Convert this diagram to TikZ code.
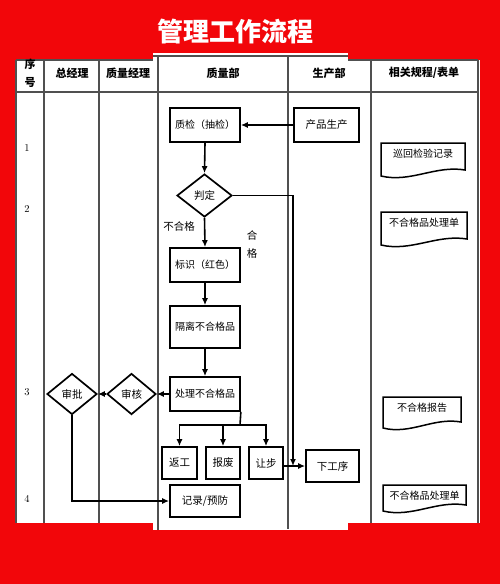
\documentclass[tikz,border=0pt]{standalone}
\usepackage{fontspec}
\newfontfamily\cjk{Noto Sans CJK SC}
\usetikzlibrary{shapes.geometric,arrows.meta}
\definecolor{bgred}{RGB}{242,6,10}
\definecolor{gridc}{RGB}{80,80,80}
\tikzset{
  box/.style={draw, line width=1.7pt, inner sep=0pt, font=\cjk\fontsize{10.5}{13}\selectfont},
  dia/.style={draw, diamond, line width=1.7pt, inner sep=0pt, font=\cjk\fontsize{10.5}{13}\selectfont},
  smalltxt/.style={font=\cjk\fontsize{10}{13}\selectfont},
  arr/.style={line width=1.6pt, -{Latex[length=7pt,width=6pt]}},
  ln/.style={line width=1.6pt},
  gridl/.style={draw=gridc, line width=1.2pt},
  hdr/.style={font=\cjk\bfseries\fontsize{11}{18}\selectfont, align=center},
  lbl/.style={font=\cjk\fontsize{10.5}{18}\selectfont, align=center},
  num/.style={font=\fontsize{10.5}{12}\selectfont},
  doctext/.style={font=\cjk\fontsize{10}{12}\selectfont},
  docline/.style={draw, line width=1.5pt}
}
\newcommand\mydoc[6]{%
  \draw[docline] (#2,#3) -- (#4,#3) -- (#4,#5-7)
     .. controls ({#4-(#4-#2)*0.35},#5-12) and ({#2+(#4-#2)*0.35},#5+6) .. (#2,#5-1) -- cycle;
  \node[doctext] (#1) at ({(#2+#4)/2},#3+11) {#6};}
\begin{document}
\begin{tikzpicture}[x=1pt,y=-1pt]
\useasboundingbox (0,0) rectangle (500,584);
\fill[bgred] (0,0) rectangle (500,584);
% white areas
\fill[white] (16,60) rectangle (480,523);
\fill[white] (153,53) rectangle (348,530);
% title
\node[font=\cjk\bfseries\fontsize{26}{30}\selectfont, text=white] (title) at (235,32) {管理工作流程};
% table grid
\draw[gridl] (16,60) -- (153,60);
\draw[gridl] (153,56) -- (348,56);
\draw[gridl] (348,60) -- (478,60);
\draw[gridl] (16,92) -- (478,92);
\draw[gridl] (16,60) -- (16,523);
\draw[gridl] (44,60) -- (44,523);
\draw[gridl] (99,60) -- (99,523);
\draw[gridl] (158,56) -- (158,530);
\draw[gridl] (288,56) -- (288,529);
\draw[gridl] (371,60) -- (371,523);
\draw[gridl] (478,60) -- (478,523);
% headers
\node[hdr] (h0) at (30,73) {序\\号};
\node[hdr] (h1) at (72,73) {总经理};
\node[hdr] (h2) at (128,73) {质量经理};
\node[hdr] (h3) at (223,73) {质量部};
\node[hdr] (h4) at (329,73) {生产部};
\node[hdr] (h5) at (424,73) {相关规程/表单};
% row numbers
\node[num] (r1) at (27,148) {1};
\node[num] (r2) at (27,209) {2};
\node[num] (r3) at (27,392) {3};
\node[num] (r4) at (27,499) {4};
% boxes
\node[box, smalltxt, minimum width=70pt, minimum height=34pt] (zhijian) at (205,125) {质检（抽检）};
\node[box, minimum width=65pt, minimum height=34pt] (chanp) at (326.5,125) {产品生产};
\node[dia, minimum width=55pt, minimum height=43pt] (panding) at (204.5,195.5) {判定};
\node[box, smalltxt, minimum width=70pt, minimum height=34pt] (biaoshi) at (205,265) {标识（红色）};
\node[box, smalltxt, minimum width=70pt, minimum height=42pt] (geli) at (205,327) {隔离不合格品};
\node[box, smalltxt, minimum width=70pt, minimum height=34pt] (chuli) at (205,394) {处理不合格品};
\node[dia, minimum width=49pt, minimum height=41pt] (shenhe) at (131.5,394) {审核};
\node[dia, minimum width=50pt, minimum height=41pt] (shenpi) at (72,394) {审批};
\node[box, minimum width=35pt, minimum height=32pt] (fangong) at (179.5,463) {返工};
\node[box, minimum width=34pt, minimum height=32pt] (baofei) at (223,463) {报废};
\node[box, minimum width=34pt, minimum height=32pt] (rangbu) at (266,463) {让步};
\node[box, minimum width=53pt, minimum height=32pt] (xiagongxu) at (332.5,466) {下工序};
\node[box, minimum width=70pt, minimum height=32pt] (jilu) at (205,501) {记录/预防};
% labels
\node[lbl] (buhege) at (179,226) {不合格};
\node[lbl] (hege) at (252,244) {合\\格};
% documents
\mydoc{d1}{381}{143}{465}{177}{巡回检验记录}
\mydoc{d2}{381}{212}{467}{246}{不合格品处理单}
\mydoc{d3}{383}{397}{461}{429}{不合格报告}
\mydoc{d4}{383}{485}{466}{512}{不合格品处理单}
% connectors
\draw[arr] (chanp.west) -- (zhijian.east);
\draw[arr] (zhijian.south) -- (panding.north);
\draw[arr] (panding.south) -- (biaoshi.north);
\draw[arr] (biaoshi.south) -- (geli.north);
\draw[arr] (geli.south) -- (chuli.north);
\draw[arr] (chuli.west) -- (shenhe.east);
\draw[arr] (shenhe.west) -- (shenpi.east);
\draw[arr] (shenpi.south) |- (jilu.west);
\coordinate (br) at (240,425);
\draw[ln] (chuli.south east) -- (br);
\draw[arr] (br) -| (fangong.north);
\draw[arr] (br) -| (baofei.north);
\draw[arr] (br) -| (rangbu.north);
\coordinate (pj) at (293,466);
\draw[arr] (panding.east) -| (pj);
\draw[arr] (rangbu.east |- xiagongxu.west) -- (xiagongxu.west);
\end{tikzpicture}
\end{document}
